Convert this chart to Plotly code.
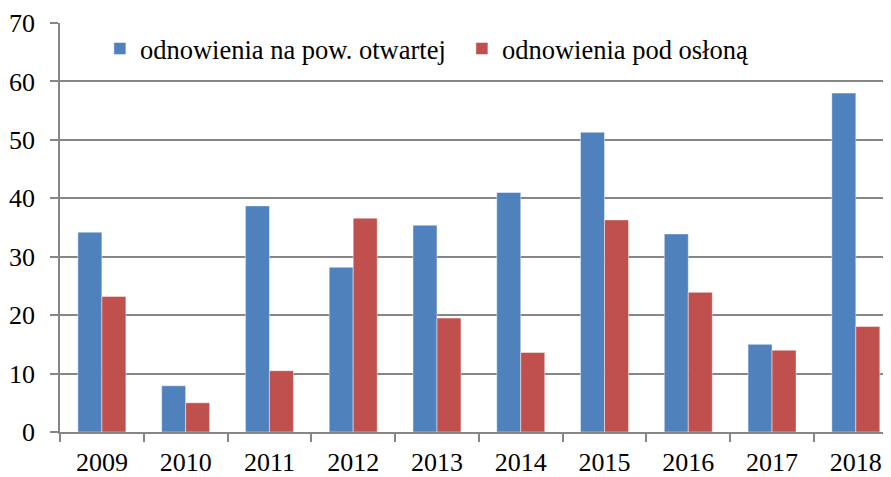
import plotly.graph_objects as go

years = ["2009", "2010", "2011", "2012", "2013", "2014", "2015", "2016", "2017", "2018"]
open_area = [34.2, 7.9, 38.7, 28.2, 35.4, 41.0, 51.3, 33.9, 15.0, 58.0]
covered = [23.2, 5.0, 10.5, 36.6, 19.5, 13.6, 36.3, 23.9, 14.0, 18.05]
name_open = "odnowienia na pow. otwartej"
name_cov = "odnowienia pod osłoną"

FONT = "Liberation Serif"

fig = go.Figure()
fig.add_trace(go.Bar(x=years, y=open_area, name=name_open,
                     marker=dict(color="#4F81BD", line=dict(color="rgba(255,255,255,0.45)", width=1))))
fig.add_trace(go.Bar(x=years, y=covered, name=name_cov,
                     marker=dict(color="#C0504D", line=dict(color="rgba(255,255,255,0.45)", width=1))))

# page body has an 8px margin, so the figure is shrunk by 8px and margins reduced accordingly
fig.update_layout(
    width=883, height=469,
    margin=dict(l=52, r=0, t=15, b=45),
    paper_bgcolor="white", plot_bgcolor="white",
    barmode="group", bargap=0.427, bargroupgap=0,
    font=dict(family=FONT, size=26, color="black"),
    showlegend=True,
    legend=dict(orientation="h", x=0.048, y=0.937, xanchor="left", yanchor="middle",
                font=dict(family=FONT, size=26.5, color="black"),
                bgcolor="rgba(0,0,0,0)", entrywidth=317, entrywidthmode="pixels",
                itemclick=False),
    xaxis=dict(type="category", range=[-0.5, 9.42], showgrid=False,
               showline=True, linecolor="#868686", linewidth=1.5,
               ticks="outside", tickson="boundaries", ticklen=8, tickcolor="#868686", tickwidth=1.5,
               tickfont=dict(family=FONT, size=26, color="black"), ticklabelstandoff=6),
    yaxis=dict(range=[0, 70], dtick=10, showgrid=True, gridcolor="#868686", gridwidth=1.5,
               showline=True, linecolor="#868686", linewidth=1.5, zeroline=False,
               ticks="outside", ticklen=8, tickcolor="#868686", tickwidth=1.5,
               tickfont=dict(family=FONT, size=26, color="black"), ticklabelstandoff=10),
)

fig.write_html("out.html")
